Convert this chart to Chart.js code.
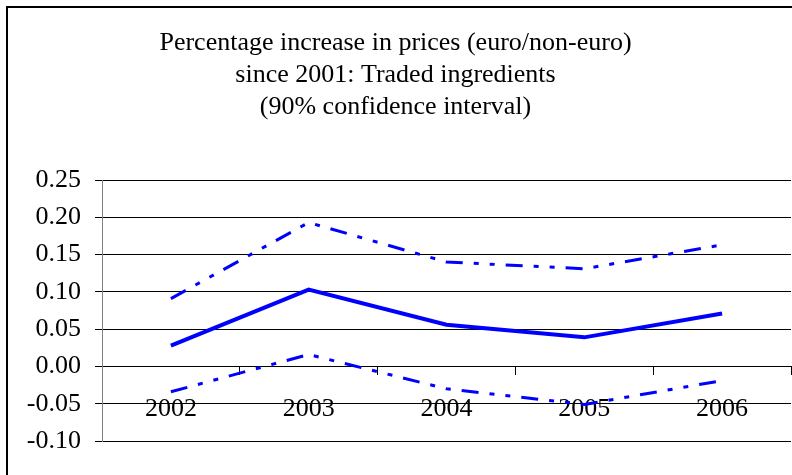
<!DOCTYPE html>
<html>
<head>
<meta charset="utf-8">
<title>Traded ingredients</title>
<script src="https://cdn.jsdelivr.net/npm/chart.js@4.4.1/dist/chart.umd.min.js"></script>
<style>
    html, body { margin: 0; padding: 0; background: #fff; }
    body { position: relative; width: 792px; height: 475px; overflow: hidden; }
    .frame {
        position: absolute; left: 6px; top: 6px; width: 900px; height: 600px;
        border-left: 2px solid #000; border-top: 2px solid #000;
    }
    #price-chart { position: absolute; left: 0; top: 0; }
</style>
</head>
<body>
<div class="frame"></div>
<canvas id="price-chart" width="792" height="475"></canvas>
<script>
// years on the x axis
const years = ['2002', '2003', '2004', '2005', '2006'];

// point estimate and 90% confidence bounds
const estimate = [0.028, 0.103, 0.056, 0.039, 0.071];
const upperBound = [0.091, 0.193, 0.140, 0.131, 0.163];
const lowerBound = [-0.034, 0.016, -0.030, -0.051, -0.019];

const titleLines = [
    'Percentage increase in prices (euro/non-euro)',
    'since 2001: Traded ingredients',
    '(90% confidence interval)'
];

const yMin = -0.10;
const yMax = 0.25;
const yStep = 0.05;

const serif = 'Liberation Serif, Times New Roman, serif';
const blue = '#0000ff';
const dashDotDot = [17, 11, 5, 11, 5, 11];

function formatTick(value) {
    if (Math.abs(value) < 1e-9) return '0.00';
    return value.toFixed(2);
}

new Chart(document.getElementById('price-chart'), {
    type: 'line',
    data: {
        labels: years,
        datasets: [
            {
                label: 'Upper',
                data: upperBound,
                borderColor: blue,
                borderWidth: 3,
                borderDash: dashDotDot,
                borderCapStyle: 'butt',
                pointRadius: 0,
                tension: 0,
                fill: false
            },
            {
                label: 'Estimate',
                data: estimate,
                borderColor: blue,
                borderWidth: 4,
                pointRadius: 0,
                tension: 0,
                fill: false
            },
            {
                label: 'Lower',
                data: lowerBound,
                borderColor: blue,
                borderWidth: 3,
                borderDash: dashDotDot,
                borderCapStyle: 'butt',
                pointRadius: 0,
                tension: 0,
                fill: false
            }
        ]
    },
    options: {
        responsive: false,
        animation: false,
        layout: {
            padding: { left: 0, right: 1, top: 0, bottom: 34 }
        },
        plugins: {
            legend: { display: false },
            tooltip: { enabled: false },
            title: {
                display: true,
                text: titleLines,
                color: '#000',
                font: { family: serif, size: 26, weight: 'normal', lineHeight: '32px' },
                padding: { top: 27, bottom: 57 }
            }
        },
        scales: {
            x: {
                position: { y: 0 },
                offset: true,
                grid: {
                    offset: true,
                    drawOnChartArea: false,
                    drawTicks: true,
                    tickLength: 8,
                    color: '#000'
                },
                border: { display: true, color: '#000', width: 1 },
                ticks: {
                    color: '#000',
                    padding: 19,
                    maxRotation: 0,
                    font: { family: serif, size: 26 }
                }
            },
            y: {
                min: yMin,
                max: yMax,
                afterFit: function(scale) {
                    scale.width = 102;
                },
                grid: {
                    color: '#000',
                    lineWidth: 1,
                    drawTicks: true,
                    tickLength: 7
                },
                border: { display: true, color: '#808080', width: 1 },
                ticks: {
                    stepSize: yStep,
                    color: '#000',
                    padding: 14,
                    font: { family: serif, size: 26 },
                    callback: formatTick
                }
            }
        }
    }
});
</script>
</body>
</html>
